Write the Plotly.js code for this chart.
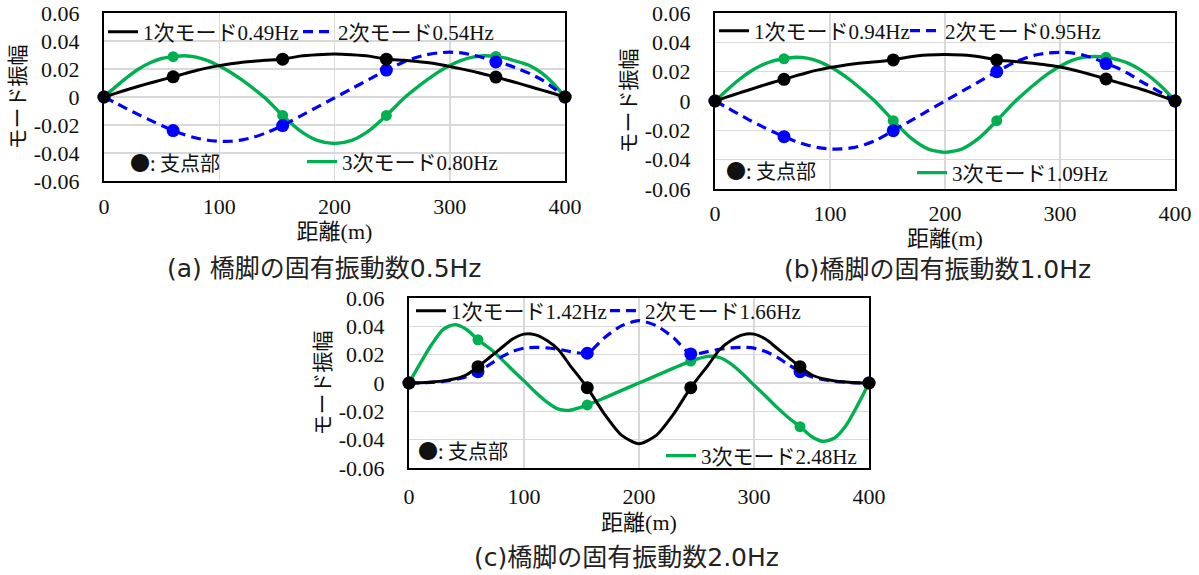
<!DOCTYPE html>
<html>
<head>
<meta charset="utf-8">
<script src="https://cdn.plot.ly/plotly-3.0.1.min.js"></script>
<style>
  html, body { margin: 0; padding: 0; background: #ffffff; }
  #chart { width: 1199px; height: 575px; }
</style>
</head>
<body>
<div id="chart"></div>
<script>
// ---------------- data ----------------
const distance = [0,10,20,30,40,50,60,70,80,90,100,110,120,130,140,155,170,185,200,215,230,245,260,270,280,290,300,310,320,330,340,350,360,370,380,390,400];
const supportDistance = [0,60,155,245,340,400];

// (a) pier natural frequency 0.5 Hz
const a1 = [0,0.0026,0.0052,0.0077,0.0100,0.0122,0.0144,0.0167,0.0189,0.0208,0.0224,0.0237,0.0248,0.0256,0.0262,0.0270,0.0292,0.0302,0.0307,0.0302,0.0292,0.0270,0.0262,0.0255,0.0246,0.0234,0.0218,0.0201,0.0183,0.0163,0.0142,0.0120,0.0097,0.0073,0.0049,0.0025,0];
const a2 = [0,-0.0042,-0.0085,-0.0126,-0.0165,-0.0204,-0.0240,-0.0270,-0.0293,-0.0309,-0.0316,-0.0316,-0.0306,-0.0287,-0.0258,-0.0204,-0.0138,-0.0072,-0.0006,0.0060,0.0126,0.0192,0.0250,0.0280,0.0302,0.0315,0.0320,0.0315,0.0300,0.0278,0.0250,0.0230,0.0200,0.0165,0.0122,0.0065,0];
const a3 = [0,0.0072,0.0140,0.0200,0.0245,0.0275,0.0288,0.0295,0.0285,0.0260,0.0222,0.0175,0.0120,0.0058,-0.0008,-0.0132,-0.0240,-0.0310,-0.0332,-0.0310,-0.0240,-0.0132,-0.0010,0.0058,0.0120,0.0178,0.0225,0.0262,0.0285,0.0295,0.0290,0.0275,0.0250,0.0222,0.0170,0.0095,0];

// (b) pier natural frequency 1.0 Hz
const b1 = [0,0.0026,0.0052,0.0077,0.0102,0.0126,0.0148,0.0171,0.0193,0.0212,0.0228,0.0241,0.0252,0.0261,0.0268,0.0280,0.0302,0.0313,0.0317,0.0313,0.0302,0.0280,0.0270,0.0263,0.0254,0.0244,0.0232,0.0215,0.0195,0.0173,0.0150,0.0127,0.0105,0.0082,0.0056,0.0028,0];
const b2 = [0,-0.0043,-0.0087,-0.0130,-0.0170,-0.0208,-0.0243,-0.0275,-0.0300,-0.0318,-0.0327,-0.0327,-0.0318,-0.0298,-0.0268,-0.0202,-0.0135,-0.0068,0.0000,0.0067,0.0134,0.0200,0.0262,0.0293,0.0315,0.0328,0.0332,0.0328,0.0314,0.0290,0.0255,0.0225,0.0185,0.0135,0.0092,0.0047,0];
const b3 = [0,0.0072,0.0140,0.0198,0.0242,0.0272,0.0288,0.0298,0.0292,0.0270,0.0233,0.0186,0.0128,0.0062,-0.0008,-0.0134,-0.0250,-0.0326,-0.0350,-0.0326,-0.0250,-0.0134,-0.0010,0.0062,0.0128,0.0188,0.0237,0.0275,0.0297,0.0303,0.0298,0.0282,0.0255,0.0212,0.0155,0.0085,0];

// (c) pier natural frequency 2.0 Hz
const c1 = [0,0.0002,0.0007,0.0015,0.0030,0.0058,0.0115,0.0180,0.0245,0.0310,0.0345,0.0340,0.0300,0.0235,0.0125,-0.0033,-0.0220,-0.0370,-0.0428,-0.0370,-0.0220,-0.0033,0.0125,0.0235,0.0300,0.0340,0.0345,0.0310,0.0245,0.0180,0.0115,0.0058,0.0030,0.0015,0.0007,0.0002,0];
const c2 = [0,0.0001,0.0005,0.0012,0.0025,0.0045,0.0080,0.0130,0.0182,0.0222,0.0246,0.0252,0.0248,0.0238,0.0222,0.0210,0.0320,0.0405,0.0440,0.0405,0.0320,0.0205,0.0222,0.0238,0.0248,0.0252,0.0246,0.0222,0.0182,0.0130,0.0080,0.0045,0.0025,0.0012,0.0005,0.0001,0];
const c3 = [0,0.0142,0.0275,0.0380,0.0412,0.0378,0.0305,0.0245,0.0172,0.0092,0.0015,-0.0065,-0.0135,-0.0185,-0.0192,-0.0155,-0.0105,-0.0052,0.0000,0.0052,0.0105,0.0155,0.0188,0.0180,0.0135,0.0065,-0.0015,-0.0092,-0.0172,-0.0245,-0.0308,-0.0378,-0.0412,-0.0388,-0.0300,-0.0158,0];

const namesA = ['1次モード0.49Hz','2次モード0.54Hz','3次モード0.80Hz'];
const namesB = ['1次モード0.94Hz','2次モード0.95Hz','3次モード1.09Hz'];
const namesC = ['1次モード1.42Hz','2次モード1.66Hz','3次モード2.48Hz'];
const subtitles = ['(a) 橋脚の固有振動数0.5Hz','(b)橋脚の固有振動数1.0Hz','(c)橋脚の固有振動数2.0Hz'];
const supportLabel = '●: 支点部';
const xTitle = '距離(m)';
const yTitle = 'モード振幅';
const xTickVals = [0,100,200,300,400];
const xTickText = ['0','100','200','300','400'];
const yTickVals = [0.06,0.04,0.02,0,-0.02,-0.04,-0.06];
const yTickText = ['0.06','0.04','0.02','0','-0.02','-0.04','-0.06'];

// ---------------- styling ----------------
const W = 1199, H = 575;
const SERIF = '"Liberation Serif", "Noto Sans CJK JP", serif';
const SANS = '"DejaVu Sans", "Noto Sans CJK JP", sans-serif';
const CJK = '"Noto Sans CJK JP", sans-serif';
const COLORS = ['#000000', '#0000ff', '#00b050'];
const TXT = '#111111';

function atSupports(series) {
  return supportDistance.map(d => series[distance.indexOf(d)]);
}

function panelTraces(xa, ya, series, names, legends) {
  const styles = [
    {color: COLORS[0], width: 3, dash: 'solid'},
    {color: COLORS[1], width: 3.2, dash: '10px,6px'},
    {color: COLORS[2], width: 3.4, dash: 'solid'}
  ];
  const msize = [13, 13, 11];
  const order = [2, 1, 0];
  const out = [];
  order.forEach(i => {
    out.push({
      type: 'scatter', mode: 'lines', x: distance, y: series[i],
      xaxis: xa, yaxis: ya, name: names[i], legend: legends[i],
      line: Object.assign({shape: 'spline', smoothing: 0.7}, styles[i]),
      hoverinfo: 'skip', showlegend: true
    });
    out.push({
      type: 'scatter', mode: 'markers', x: supportDistance, y: atSupports(series[i]),
      xaxis: xa, yaxis: ya, showlegend: false, cliponaxis: false,
      marker: {color: COLORS[i], size: msize[i]}, hoverinfo: 'skip'
    });
  });
  return out;
}

function xAxis(l, r, anchor, labelStandoff, titleStandoff) {
  return {
    domain: [l / W, r / W], anchor: anchor, range: [0, 400],
    tickvals: xTickVals, ticktext: xTickText, ticks: '',
    tickfont: {family: SERIF, size: 22, color: TXT},
    ticklabelstandoff: labelStandoff,
    showline: true, mirror: true, linecolor: '#000000', linewidth: 2,
    showgrid: true, gridcolor: '#d9d9d9', gridwidth: 1.5, zeroline: false,
    title: {text: xTitle, font: {family: SERIF, size: 22, color: TXT}, standoff: titleStandoff},
    automargin: false,
    fixedrange: true
  };
}
function yAxis(t, b, anchor) {
  return {
    domain: [1 - b / H, 1 - t / H], anchor: anchor, range: [-0.06, 0.06],
    tickvals: yTickVals, ticktext: yTickText, ticks: '',
    tickfont: {family: SERIF, size: 22, color: TXT},
    ticklabelstandoff: 18,
    showline: true, mirror: true, linecolor: '#000000', linewidth: 2,
    showgrid: true, gridcolor: '#d9d9d9', gridwidth: 1.5, zeroline: false,
    title: {text: yTitle, font: {family: CJK, size: 21, color: TXT}, standoff: 2},
    automargin: false,
    fixedrange: true
  };
}
function leg(left, cy) {
  return {
    x: left / W, y: 1 - cy / H, xanchor: 'left', yanchor: 'middle',
    bgcolor: 'rgba(0,0,0,0)', borderwidth: 0, itemwidth: 30,
    font: {family: SERIF, size: 21, color: TXT}
  };
}
function note(text, x, y, opts) {
  return Object.assign({
    text: text, xref: 'paper', yref: 'paper', x: x / W, y: 1 - y / H,
    showarrow: false, xanchor: 'left', yanchor: 'middle'
  }, opts);
}

const traces = [].concat(
  panelTraces('x', 'y', [a1, a2, a3], namesA, ['legend', 'legend2', 'legend3']),
  panelTraces('x2', 'y2', [b1, b2, b3], namesB, ['legend4', 'legend5', 'legend6']),
  panelTraces('x3', 'y3', [c1, c2, c3], namesC, ['legend7', 'legend8', 'legend9'])
);

const layout = {
  width: W, height: H,
  margin: {l: 0, r: 0, t: 0, b: 0},
  paper_bgcolor: '#ffffff', plot_bgcolor: '#ffffff',
  showlegend: true,
  xaxis: xAxis(104, 565, 'y', 5, 1),   yaxis: yAxis(13, 181, 'x'),
  xaxis2: xAxis(715, 1175, 'y2', 4, 0), yaxis2: yAxis(13, 189, 'x2'),
  xaxis3: xAxis(409, 869, 'y3', 8, 6), yaxis3: yAxis(298, 468, 'x3'),
  legend: leg(103, 32), legend2: leg(298, 32), legend3: leg(302, 162),
  legend4: leg(714, 31), legend5: leg(905, 31), legend6: leg(912, 173),
  legend7: leg(411, 311), legend8: leg(605, 311), legend9: leg(661, 456),
  annotations: [
    note(supportLabel, 128, 163, {font: {family: CJK, size: 20, color: TXT}}),
    note(supportLabel, 724, 170, {font: {family: CJK, size: 20, color: TXT}}),
    note(supportLabel, 416, 450, {font: {family: CJK, size: 20, color: TXT}}),
    note(subtitles[0], 324, 268, {xanchor: 'center', font: {family: SANS, size: 25, color: '#222222'}}),
    note(subtitles[1], 937, 269, {xanchor: 'center', font: {family: SANS, size: 25, color: '#222222'}}),
    note(subtitles[2], 626, 557, {xanchor: 'center', font: {family: SANS, size: 25, color: '#222222'}})
  ]
};

Plotly.newPlot('chart', traces, layout, {displayModeBar: false, staticPlot: true});
</script>
</body>
</html>
